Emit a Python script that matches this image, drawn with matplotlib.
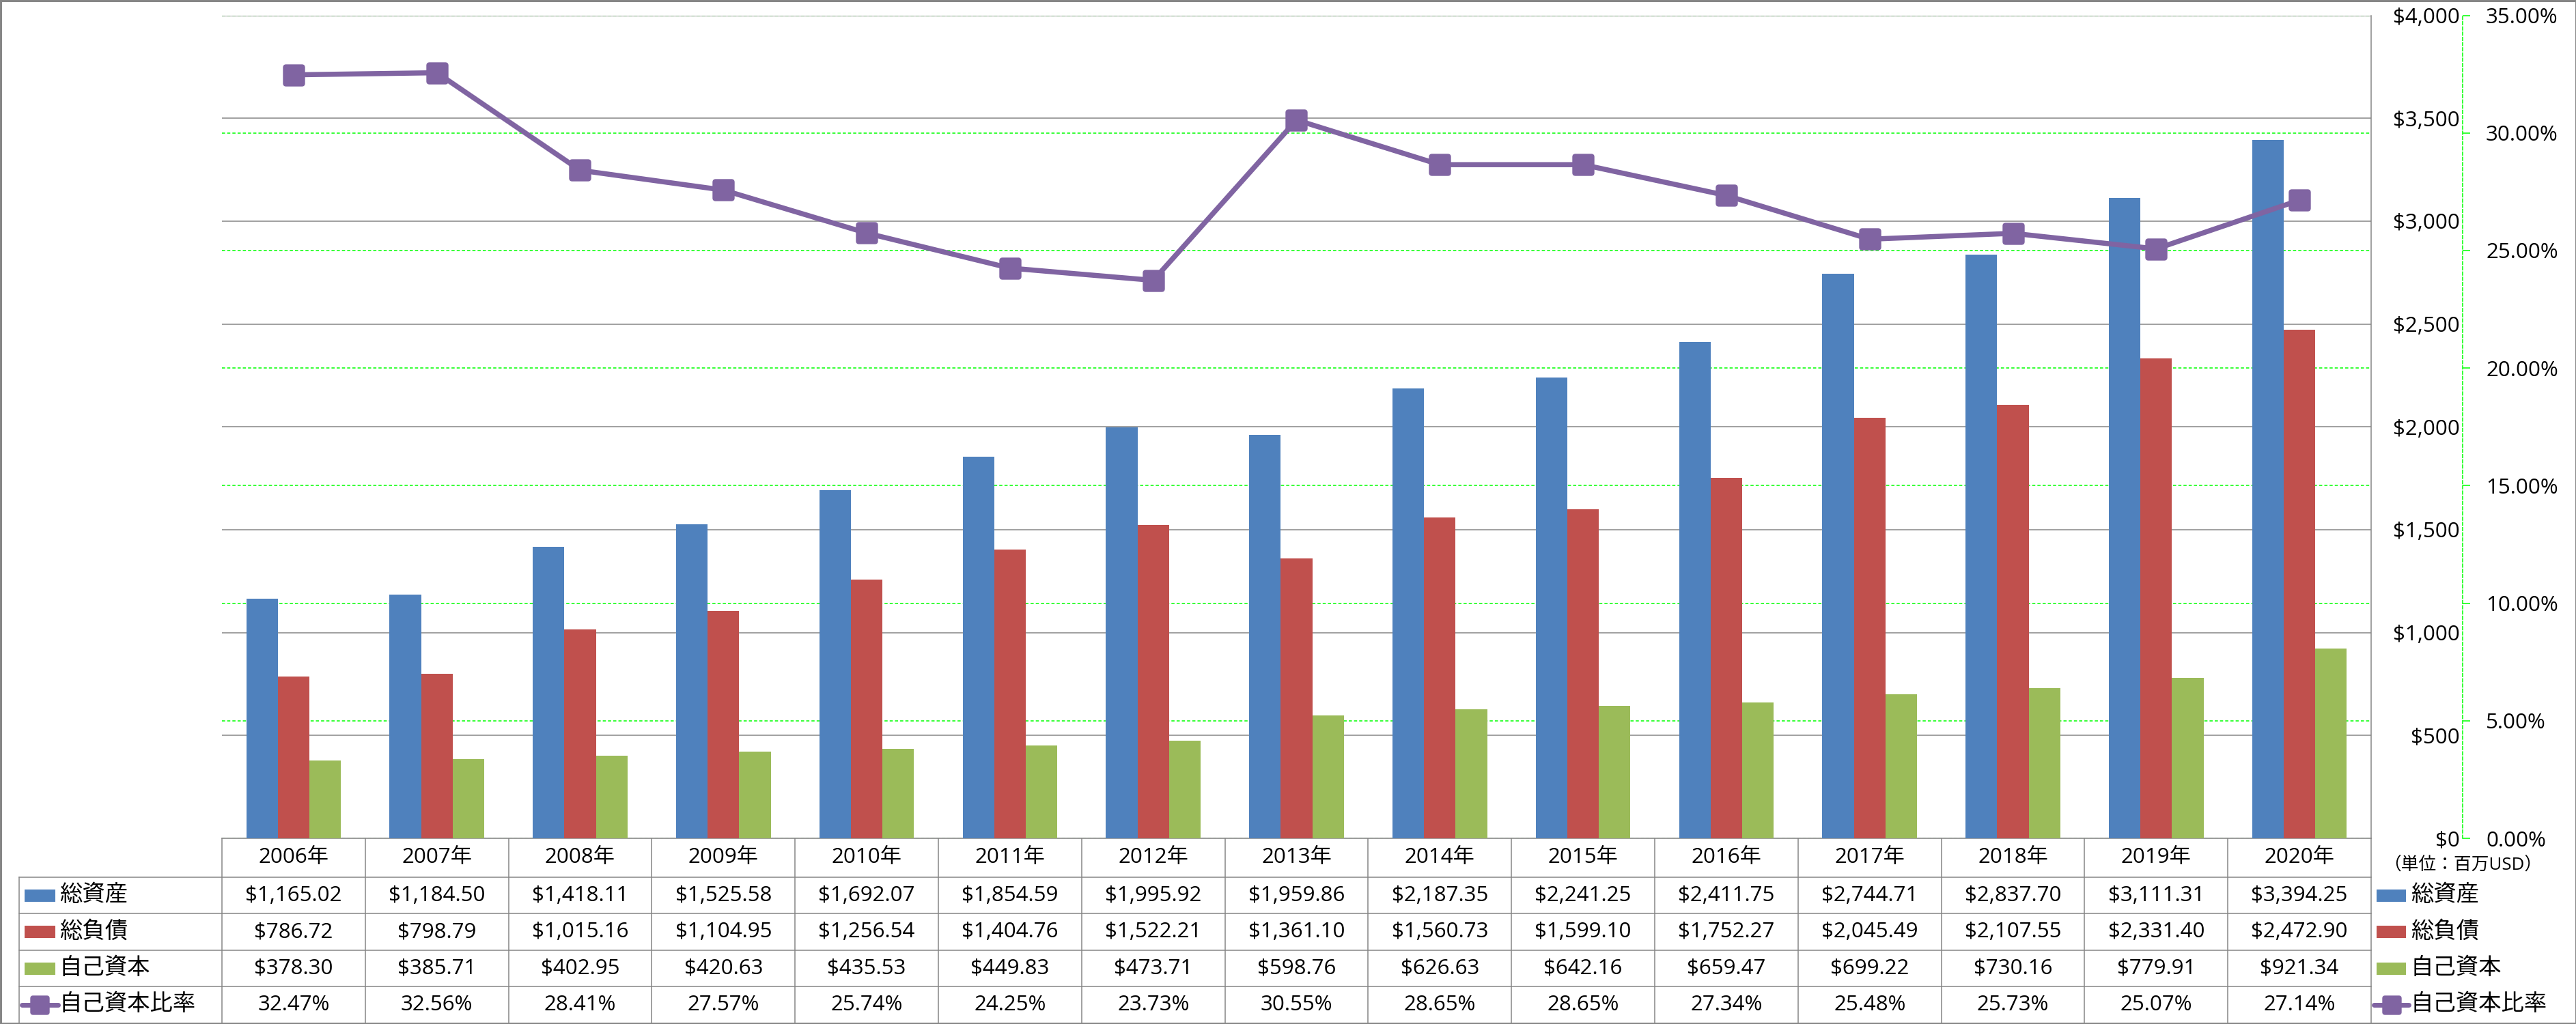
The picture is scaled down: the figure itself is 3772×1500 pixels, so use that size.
import matplotlib
matplotlib.use("Agg")
import matplotlib.pyplot as plt
from matplotlib.lines import Line2D
from matplotlib.patches import Rectangle
from matplotlib.path import Path
from matplotlib.transforms import blended_transform_factory
import numpy as np

plt.rcParams['font.family'] = ['Open Sans', 'Noto Sans CJK JP']

# ---------------- data ----------------
years = ["2006年", "2007年", "2008年", "2009年", "2010年", "2011年", "2012年", "2013年",
         "2014年", "2015年", "2016年", "2017年", "2018年", "2019年", "2020年"]
total_assets = [1165.02, 1184.50, 1418.11, 1525.58, 1692.07, 1854.59, 1995.92, 1959.86,
                2187.35, 2241.25, 2411.75, 2744.71, 2837.70, 3111.31, 3394.25]
total_liab = [786.72, 798.79, 1015.16, 1104.95, 1256.54, 1404.76, 1522.21, 1361.10,
              1560.73, 1599.10, 1752.27, 2045.49, 2107.55, 2331.40, 2472.90]
equity = [378.30, 385.71, 402.95, 420.63, 435.53, 449.83, 473.71, 598.76,
          626.63, 642.16, 659.47, 699.22, 730.16, 779.91, 921.34]
equity_ratio = [32.47, 32.56, 28.41, 27.57, 25.74, 24.25, 23.73, 30.55,
                28.65, 28.65, 27.34, 25.48, 25.73, 25.07, 27.14]
series_names = ["総資産", "総負債", "自己資本", "自己資本比率"]
unit_label = "（単位：百万USD）"

C_BLUE, C_RED, C_GREEN, C_PURPLE = "#4F81BD", "#C0504D", "#9BBB59", "#8064A2"
C_GRID = "#868686"
C_LIME = "#00FF00"

# rounded-square marker
_r = 0.25
_verts = [(-1 + _r, -1), (1 - _r, -1), (1, -1), (1, -1 + _r), (1, 1 - _r), (1, 1),
          (1 - _r, 1), (-1 + _r, 1), (-1, 1), (-1, 1 - _r), (-1, -1 + _r), (-1, -1),
          (-1 + _r, -1), (-1 + _r, -1)]
_codes = [Path.MOVETO, Path.LINETO, Path.CURVE3, Path.CURVE3, Path.LINETO, Path.CURVE3,
          Path.CURVE3, Path.LINETO, Path.CURVE3, Path.CURVE3, Path.LINETO, Path.CURVE3,
          Path.CURVE3, Path.CLOSEPOLY]
RSQ = Path(_verts, _codes)

# ---------------- layout (pixels) ----------------
W, H = 3773, 1500
DPI = 100
PX = 72.0 / DPI  # points per pixel
def fx(p): return p / W
def fy(p): return 1 - p / H

L, R, T, B = 325, 3472, 22.5, 1228

fig = plt.figure(figsize=(W / DPI, H / DPI), dpi=DPI)
fig.patch.set_facecolor("white")

ax2 = fig.add_axes([fx(L), fy(B), fx(R) - fx(L), fy(T) - fy(B)])
ax = ax2.twinx()   # primary bars axis (on top of ax2)
ax3 = ax2.twinx()  # line axis
ax2.set_zorder(1)
ax.set_zorder(2)
ax3.set_zorder(3)
ax.patch.set_visible(False)
ax3.patch.set_visible(False)

x = np.arange(len(years))
n = len(years)
bw = 0.22
FS = 22.5

# ---- secondary (percent) axis: grid + labels ----
ax2.set_xlim(-0.5, n - 0.5)
ax2.set_ylim(0, 0.35)
ax2.set_yticks(np.arange(0, 0.351, 0.05))
ax2.yaxis.tick_right()
ax2.yaxis.set_label_position("right")
ax2.set_yticklabels([f"{v*100:.2f}%" for v in np.arange(0, 0.351, 0.05)])
ax2.yaxis.grid(True, color=C_LIME, linestyle=(0, (3, 2)), linewidth=1.1)
ax2.xaxis.grid(False)
for s in ["top", "left", "bottom"]:
    ax2.spines[s].set_visible(False)
ax2.spines["right"].set_position(("outward", (3606 - R) * PX))
ax2.spines["right"].set_color(C_LIME)
ax2.spines["right"].set_linestyle((0, (3, 2)))
ax2.spines["right"].set_linewidth(1.1)
ax2.tick_params(axis="y", which="both", direction="out", length=11 * PX, width=1.1,
                color=C_LIME, pad=23 * PX, labelsize=FS, left=False, labelleft=False,
                right=True, labelright=True)
ax2.tick_params(axis="x", bottom=False, labelbottom=False)

# ---- primary axis: bars ----
ax.set_xlim(-0.5, n - 0.5)
ax.set_ylim(0, 4000)
ax.bar(x - bw, total_assets, bw, color=C_BLUE, zorder=3)
ax.bar(x, total_liab, bw, color=C_RED, zorder=3)
ax.bar(x + bw, equity, bw, color=C_GREEN, zorder=3)
ax.set_axisbelow(True)
ax.yaxis.grid(True, color=C_GRID, linewidth=1.1)
ax.set_yticks(np.arange(0, 4001, 500))
ax.set_yticklabels([f"${int(v):,}" for v in np.arange(0, 4001, 500)])
ax.tick_params(axis="y", left=False, labelleft=False, right=False, labelright=True,
               length=0, pad=(3602 - R) * PX, labelsize=FS)
for lbl in ax.get_yticklabels():
    lbl.set_horizontalalignment("right")
ax.tick_params(axis="x", bottom=False, labelbottom=False, top=False)
ax.spines["top"].set_visible(False)
ax.spines["left"].set_visible(False)
ax.spines["right"].set_color(C_GRID)
ax.spines["bottom"].set_color(C_GRID)
ax.spines["right"].set_linewidth(1.1)
ax.spines["bottom"].set_linewidth(1.1)

# ---- line axis ----
ax3.set_xlim(-0.5, n - 0.5)
ax3.set_ylim(0, 0.35)
ax3.plot(x, np.array(equity_ratio) / 100, color=C_PURPLE, linewidth=7.5 * PX,
         marker=RSQ, markersize=31 * PX, markerfacecolor=C_PURPLE,
         markeredgecolor=C_PURPLE, zorder=5, solid_joinstyle="round")
ax3.axis("off")

# ---------------- data table ----------------
trx = blended_transform_factory(ax.transData, fig.transFigure)
row_edges = [1228, 1285, 1338, 1392, 1445, 1498]
lw_tab = 1.1

# horizontal lines
for yy in row_edges[1:-1]:
    fig.add_artist(Line2D([fx(28), fx(R)], [fy(yy), fy(yy)], color=C_GRID, lw=lw_tab))
# vertical column lines
for k in range(n + 1):
    xb = k - 0.5
    fig.add_artist(Line2D([xb, xb], [fy(1228), fy(1498)], transform=trx,
                          color=C_GRID, lw=lw_tab))
fig.add_artist(Line2D([fx(28), fx(28)], [fy(1285), fy(1498)], color=C_GRID, lw=lw_tab))

# header
hc = (row_edges[0] + row_edges[1]) / 2
for i, yl in enumerate(years):
    fig.text(i, fy(hc), yl, transform=trx, ha="center", va="center", fontsize=FS)

rows_vals = [
    [f"${v:,.2f}" for v in total_assets],
    [f"${v:,.2f}" for v in total_liab],
    [f"${v:,.2f}" for v in equity],
    [f"{v:.2f}%" for v in equity_ratio],
]
for r, vals in enumerate(rows_vals):
    yc = (row_edges[r + 1] + row_edges[r + 2]) / 2
    for i, s in enumerate(vals):
        fig.text(i, fy(yc), s, transform=trx, ha="center", va="center", fontsize=FS)

# legend keys (left in table and right of table)
colors = [C_BLUE, C_RED, C_GREEN]
LFS = 24
def draw_keys(x0, x1, tx, mx):
    for r in range(4):
        yc = (row_edges[r + 1] + row_edges[r + 2]) / 2
        if r < 3:
            fig.add_artist(Rectangle((fx(x0), fy(yc + 9)), fx(x1) - fx(x0), 18 / H,
                                     facecolor=colors[r], edgecolor="none"))
        else:
            fig.add_artist(Line2D([fx(x0 - 4), fx(x1 + 4)], [fy(yc), fy(yc)],
                                  color=C_PURPLE, lw=7 * PX, solid_capstyle="round"))
            fig.add_artist(Line2D([fx(mx)], [fy(yc)], marker=RSQ, markersize=27 * PX,
                                  color=C_PURPLE, markeredgecolor=C_PURPLE))
        fig.text(fx(tx), fy(yc), series_names[r], ha="left", va="center", fontsize=LFS)

draw_keys(36, 81, 87, 58)
draw_keys(3480, 3523, 3530, 3502)

fig.text(fx(3606), fy(1268), unit_label, ha="center", va="center", fontsize=18.5)

# figure border
fig.add_artist(Rectangle((0, 0), 1, 1, transform=fig.transFigure, fill=False,
                         edgecolor=C_GRID, linewidth=5 * PX))

fig.savefig("out.png", dpi=DPI, facecolor="white")
